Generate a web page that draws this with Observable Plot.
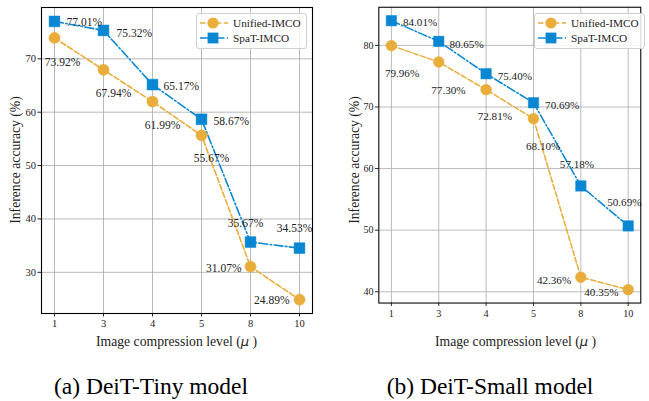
<!DOCTYPE html>
<html>
<head>
<meta charset="utf-8">
<script src="https://cdn.jsdelivr.net/npm/d3@7"></script>
<script src="https://cdn.jsdelivr.net/npm/@observablehq/plot@0.6"></script>
<style>
  html, body { margin: 0; padding: 0; background: #fff; }
  body { width: 649px; height: 401px; overflow: hidden; position: relative; font-family: 'Liberation Serif', 'Times New Roman', serif; }
  .panel { position: absolute; top: 0; }
  .lbl { position: absolute; font-size: 13.7px; white-space: nowrap; color: #222; }
  .cap { position: absolute; font-size: 23.5px; white-space: nowrap; color: #000; }
  .legend { position: absolute; background: rgba(255,255,255,0.85); border: 1px solid #d0d0d0; border-radius: 3px; box-sizing: border-box; }
</style>
</head>
<body>
<div id="root"></div>
<script>
// ---- data ----
const levels = ["1", "3", "4", "5", "8", "10"];
const tinyUnified = [73.92, 67.94, 61.99, 55.67, 31.07, 24.89];
const tinySpaT = [77.01, 75.32, 65.17, 58.67, 35.67, 34.53];
const smallUnified = [79.96, 77.30, 72.81, 68.10, 42.36, 40.35];
const smallSpaT = [84.01, 80.65, 75.40, 70.69, 57.18, 50.69];
const tinyTicks = [30, 40, 50, 60, 70];
const smallTicks = [40, 50, 60, 70, 80];
const seriesNames = ["Unified-IMCO", "SpaT-IMCO"];

// ---- label placement (styling) ----
const tinyUnifiedPlace = [["middle", 8, 24], ["middle", 10, 23], ["middle", 10, 24], ["middle", 10, 23], ["end", -9, 2], ["end", -10, 1]];
const tinySpaTPlace = [["start", 12, 1], ["start", 13, 3], ["start", 11, 2], ["start", 12, 2], ["middle", -5, -19], ["middle", -5, -20]];
const smallUnifiedPlace = [["middle", 11, 29], ["middle", 10, 29], ["middle", 9, 28], ["middle", 10, 29], ["end", -10, 3], ["end", -10, 3]];
const smallSpaTPlace = [["start", 12, 2], ["start", 11, 3], ["start", 12, 3], ["start", 12, 3], ["middle", -4, -22], ["middle", -4, -24]];

const ORANGE = "#E8AD3A";
const BLUE = "#0A87D2";
const GRID = "#b0b0b0";
const FONT = "'Liberation Serif', 'Times New Roman', serif";
const DASH_U = "5.5,2.4";
const DASH_S = "9,2.4,1.6,2.4";

function rows(vals, name) {
  return vals.map((v, i) => ({level: levels[i], value: v, series: name, label: v.toFixed(2) + "%"}));
}

function labelMarks(data, place) {
  return data.map((d, i) => {
    const [anchor, dx, dy] = place[i];
    return Plot.text([d], {x: "level", y: "value", text: "label", textAnchor: anchor, dx, dy,
      fontSize: 11.5, fill: "#222", fontFamily: FONT});
  });
}

function makePanel(uVals, sVals, ticks, uPlace, sPlace, opts) {
  const u = rows(uVals, seriesNames[0]);
  const s = rows(sVals, seriesNames[1]);
  const all = uVals.concat(sVals);
  const lo = Math.min(...all), hi = Math.max(...all), pad = (hi - lo) * 0.05;
  return Plot.plot({
    width: opts.width, height: 360,
    marginLeft: opts.ml, marginRight: opts.mr, marginTop: 7, marginBottom: 47,
    style: {fontFamily: FONT, fontSize: "10.5px", color: "#222", background: "transparent", overflow: "visible"},
    x: {type: "point", domain: levels, padding: 0.243, label: null},
    y: {domain: [lo - pad, hi + pad], label: null},
    marks: [
      Plot.gridX(levels, {stroke: GRID, strokeOpacity: 1, strokeWidth: 0.9}),
      Plot.gridY(ticks, {stroke: GRID, strokeOpacity: 1, strokeWidth: 0.9}),
      Plot.axisX(levels, {tickSize: 3.5, tickPadding: 3, fontSize: 10.5, fontFamily: FONT, label: null}),
      Plot.axisY(ticks, {tickSize: 3.5, tickPadding: 2, fontSize: 10.5, fontFamily: FONT, label: null}),
      Plot.line(u, {x: "level", y: "value", stroke: ORANGE, strokeWidth: 1.6, strokeDasharray: DASH_U}),
      Plot.line(s, {x: "level", y: "value", stroke: BLUE, strokeWidth: 1.6, strokeDasharray: DASH_S}),
      Plot.dot(u, {x: "level", y: "value", r: 5.6, symbol: "circle", fill: ORANGE, stroke: ORANGE, strokeWidth: 0.5}),
      Plot.dot(s, {x: "level", y: "value", r: 6.1, symbol: "square", fill: BLUE, stroke: BLUE, strokeWidth: 0.5}),
      ...labelMarks(u, uPlace),
      ...labelMarks(s, sPlace),
      Plot.frame({stroke: "#000", strokeWidth: 1.1})
    ]
  });
}

const root = document.getElementById("root");

function place(el, left) {
  const wrap = document.createElement("div");
  wrap.className = "panel";
  wrap.style.left = left + "px";
  wrap.appendChild(el);
  root.appendChild(wrap);
}

place(makePanel(tinyUnified, tinySpaT, tinyTicks, tinyUnifiedPlace, tinySpaTPlace, {width: 330, ml: 41, mr: 18}), 0);
place(makePanel(smallUnified, smallSpaT, smallTicks, smallUnifiedPlace, smallSpaTPlace, {width: 330, ml: 50, mr: 9}), 330);

function addText(cls, html, x, y, rotate) {
  const d = document.createElement("div");
  d.className = cls;
  d.innerHTML = html;
  d.style.left = x + "px";
  d.style.top = y + "px";
  d.style.transform = rotate ? "translate(-50%, -50%) rotate(-90deg)" : "translate(-50%, -50%)";
  root.appendChild(d);
}

const xLabel = 'Image compression level (<i style="font-family:\'DejaVu Sans\',sans-serif;font-size:13px">μ</i> )';
addText("lbl", xLabel, 176.5, 342);
addText("lbl", xLabel, 515.5, 342);
addText("lbl", "Inference accuracy (%)", 15.5, 160, true);
addText("lbl", "Inference accuracy (%)", 355, 160, true);
addText("cap", "(a) DeiT-Tiny model", 151, 386);
addText("cap", "(b) DeiT-Small model", 490, 386);

function legend(left) {
  const box = document.createElement("div");
  box.className = "legend";
  box.style.left = left + "px";
  box.style.top = "13px";
  box.style.width = "111px";
  box.style.height = "36px";
  const svgNS = "http://www.w3.org/2000/svg";
  const svg = document.createElementNS(svgNS, "svg");
  svg.setAttribute("width", 111); svg.setAttribute("height", 36);
  svg.style.position = "absolute"; svg.style.left = "-1px"; svg.style.top = "-1px";
  const items = [
    {name: seriesNames[0], color: ORANGE, dash: DASH_U, sym: "circle"},
    {name: seriesNames[1], color: BLUE, dash: DASH_S, sym: "square"}
  ];
  items.forEach((it, i) => {
    const y = 10 + i * 15;
    const ln = document.createElementNS(svgNS, "line");
    ln.setAttribute("x1", 4); ln.setAttribute("x2", 32); ln.setAttribute("y1", y); ln.setAttribute("y2", y);
    ln.setAttribute("stroke", it.color); ln.setAttribute("stroke-width", 1.6); ln.setAttribute("stroke-dasharray", it.dash);
    svg.appendChild(ln);
    let m;
    if (it.sym === "circle") {
      m = document.createElementNS(svgNS, "circle");
      m.setAttribute("cx", 17); m.setAttribute("cy", y); m.setAttribute("r", 5.6);
    } else {
      m = document.createElementNS(svgNS, "rect");
      m.setAttribute("x", 17 - 5.4); m.setAttribute("y", y - 5.4); m.setAttribute("width", 10.8); m.setAttribute("height", 10.8);
    }
    m.setAttribute("fill", it.color);
    svg.appendChild(m);
    const t = document.createElementNS(svgNS, "text");
    t.setAttribute("x", 37); t.setAttribute("y", y); t.setAttribute("dy", "0.35em");
    t.setAttribute("font-size", 11.3); t.setAttribute("font-family", FONT); t.setAttribute("fill", "#222");
    t.textContent = it.name;
    svg.appendChild(t);
  });
  box.appendChild(svg);
  root.appendChild(box);
}
legend(196);
legend(534);
</script>
</body>
</html>
